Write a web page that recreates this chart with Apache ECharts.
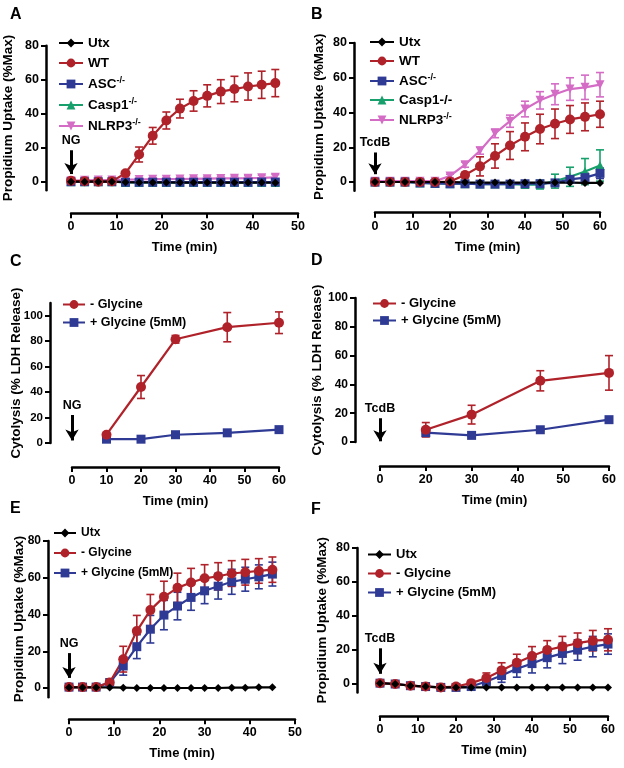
<!DOCTYPE html>
<html><head><meta charset="utf-8">
<script src="https://cdn.jsdelivr.net/npm/echarts@6/dist/echarts.min.js"></script>
<style>html,body{margin:0;padding:0;background:#fff}#c{width:624px;height:768px}</style>
</head><body><div id="c"></div>
<script>
// ---------- DATA ----------
// Panel A (NG, propidium uptake)
const tA = [0,3,6,9,12,15,18,21,24,27,30,33,36,39,42,45];
const A_utx = [0,0,0,0,-0.3,-0.4,-0.4,-0.4,-0.5,-0.5,-0.5,-0.5,-0.5,-0.5,-0.5,-0.6];
const A_wt = [0.5,0.3,0,0.2,5,16,27,36,43,47.5,50.5,53,54.5,56,57,58];
const A_wtErr = [0.5,0.5,0.5,0.5,1,4.4,4.9,5,5.5,6,6.5,7,7.5,8,8,8];
const A_asc = [0,0,0,0,-0.3,-0.3,-0.3,-0.3,-0.3,-0.3,-0.3,-0.3,-0.3,-0.3,-0.2,-0.2];
const A_casp1 = [0,0,0,0,-0.4,-0.4,-0.5,-0.5,-0.5,-0.5,-0.5,-0.5,-0.5,-0.5,-0.4,-0.4];
const A_nlrp3 = [0.5,0.8,1,1,1.2,1.3,1.5,1.5,1.6,1.7,1.8,1.9,2,2.1,2.3,2.6];
const A_nlrp3Err = [0.3,0.4,0.5,0.6,0.7,0.8,0.9,1,1,1.1,1.2,1.2,1.3,1.4,1.5,1.6];
// Panel B (TcdB, propidium uptake)
const tB = [0,4,8,12,16,20,24,28,32,36,40,44,48,52,56,60];
const B_utx = [0,0,0,0,0,0,-0.2,-0.3,-0.3,-0.3,-0.3,-0.3,-0.3,-0.4,-0.5,-0.5];
const B_wt = [0,0,0,0,0,0.3,4,9,15,21,26,30.5,33.5,36,37.5,39];
const B_wtErr = [0.3,0.3,0.3,0.3,0.3,0.5,1.5,5.5,7,8,8,8.5,8.5,8,8,7.5];
const B_asc = [0,0,0,-0.5,-0.8,-1,-1,-1.2,-1.2,-1.2,-1,-1,-0.5,1.5,2.5,5];
const B_ascErr = [0.2,0.2,0.2,0.3,0.3,0.5,0.5,0.5,0.5,0.5,0.8,1,1,2,2.5,3];
const B_casp1 = [0,0,0,-0.5,-0.8,-1,-1,-1.2,-1.2,-1.3,-1.5,-1.5,0.5,3,6,9.5];
const B_casp1Err = [0.2,0.2,0.2,0.3,0.3,0.5,0.5,0.5,0.5,1,2,2.5,4,5.5,7.5,9];
const B_nlrp3 = [0.5,0.5,0.5,0.5,0.5,3.5,10,18,28,35,42,47,50.5,53.5,54.5,56];
const B_nlrp3Err = [0.5,0.5,0.5,0.5,0.5,1,1.5,2,2.5,3.5,4.5,5,6,6.5,7,7];
// Panel C (NG, LDH release)
const tC = [10,20,30,45,60];
const C_minus = [6.5,44,81.5,91,94.5];
const C_minusErr = [1,9,3,11.5,8.5];
const C_plus = [3,3,6.5,8,10.5];
const C_plusErr = [0.8,0.8,0.8,0.8,0.8];
// Panel D (TcdB, LDH release)
const tD = [20,30,45,60];
const D_minus = [8.5,19,42.5,48];
const D_minusErr = [5,6.5,7,12];
const D_plus = [6.5,4.6,8.5,15.5];
const D_plusErr = [0.8,0.8,0.8,0.8];
// Panel E (NG, glycine)
const tE = [0,3,6,9,12,15,18,21,24,27,30,33,36,39,42,45];
const E_utx = [0.3,0.3,0.3,0.3,0.2,0,0,0,0,0,0,0,0.2,0.2,0.4,0.4];
const E_minus = [0.5,0.5,0.5,3,15.7,31,42.4,49.6,54.5,57.4,59.7,60.8,62.3,63,63.7,64.4];
const E_minusErr = [0.5,0.5,0.5,1,7,8.5,8.5,8.5,8,7.7,7.4,7.4,7,7,6.7,6.9];
const E_plus = [0.5,0.5,0.5,3,12,22.5,32,39.7,44.6,49.3,52.9,55.4,57.8,59.2,60.5,62];
const E_plusErr = [0.5,0.5,0.5,1,5,6.5,7.5,8,7.5,7,7,7,6.8,6.5,6.5,6.5];
// Panel F (TcdB, glycine)
const tF = [0,4,8,12,16,20,24,28,32,36,40,44,48,52,56,60];
const F_utx = [0.5,0,-1,-1.5,-2,-2,-2,-2,-2,-2,-2,-2,-2,-2,-2,-2];
const F_minus = [0.5,0,-1,-1.5,-2,-1.5,0.5,3.5,8,12.5,16.5,20,22,24,25.5,26];
const F_minusErr = [0.5,0.5,0.5,0.5,0.5,0.5,1,3,4.5,5,5.5,5.5,6,6,6,6.5];
const F_plus = [0.5,0,-1,-1.5,-2,-2,-1.5,1.5,5,9,12,15.5,18,20,22,23.5];
const F_plusErr = [0.5,0.5,0.5,0.5,0.5,0.5,1,3,4,5,5.5,6,6,6,6,6];
// Tick labels
const yTicksPU = [0,20,40,60,80];
const yTicksLDH = [0,20,40,60,80,100];

// ---------- STYLE ----------
const RED='#b0222a', BLUE='#2e3a94', GREEN='#17a06c', PINK='#d46cc6', BLACK='#000000';
const FONT = 'Arial, "Liberation Sans", Helvetica, sans-serif';
const ITRI = 'path://M0,0L10,0L5,9Z';
const st = {
  utx:{color:BLACK, symbol:'diamond', size:8},
  wt:{color:RED, symbol:'circle', size:10},
  asc:{color:BLUE, symbol:'rect', size:9},
  casp:{color:GREEN, symbol:'triangle', size:9},
  nlrp:{color:PINK, symbol:ITRI, size:9},
  minus:{color:RED, symbol:'circle', size:10},
  plus:{color:BLUE, symbol:'rect', size:9}
};

const panels = [
 {letter:['A',10,7], grid:{left:70,top:45.7,width:228,height:144.5},
  x:{min:0,max:50,interval:10,offset:23,nameGap:28,fs:12.5}, y:{min:-5,max:80,ticks:yTicksPU,offset:25,name:'Propidium Uptake (%Max)',nameGap:31,fs:12.5},
  legend:{left:58,top:36,gap:6,w:24,fs:13.5,sup:['ASC-/-','Casp1-/-','NLRP3-/-']},
  arrow:{x:0,from:18.5,to:4.5,text:'NG'},
  series:[['Utx',tA,A_utx,null,st.utx],['WT',tA,A_wt,A_wtErr,st.wt],['ASC-/-',tA,A_asc,null,st.asc],['Casp1-/-',tA,A_casp1,null,st.casp],['NLRP3-/-',tA,A_nlrp3,A_nlrp3Err,st.nlrp]]},
 {letter:['B',311,7], grid:{left:375,top:43,width:225,height:147.7},
  x:{min:0,max:60,interval:10,offset:22,nameGap:28,fs:12.5}, y:{min:-5,max:80,ticks:yTicksPU,offset:21,name:'Propidium Uptake (%Max)',nameGap:28,fs:12.5},
  legend:{left:369,top:35,gap:5,w:24,fs:13.5,sup:['ASC-/-','NLRP3-/-']},
  arrow:{x:0,from:17,to:4.5,text:'TcdB'},
  series:[['Utx',tB,B_utx,null,st.utx],['WT',tB,B_wt,B_wtErr,st.wt],['ASC-/-',tB,B_asc,B_ascErr,st.asc],['Casp1-/-',tB,B_casp1,B_casp1Err,st.casp],['NLRP3-/-',tB,B_nlrp3,B_nlrp3Err,st.nlrp]]},
 {letter:['C',10,254], grid:{left:72,top:303,width:207,height:140},
  x:{min:0,max:60,interval:10,offset:24,nameGap:28,fs:12.5}, y:{min:0,max:110,ticks:yTicksLDH,offset:22,name:'Cytolysis (% LDH Release)',nameGap:27,fs:11.5},
  legend:{left:62,top:298,gap:5,w:22,fs:12.5,sup:[]},
  arrow:{x:0,from:22,to:2,text:'NG'},
  series:[['- Glycine',tC,C_minus,C_minusErr,st.minus],['+ Glycine (5mM)',tC,C_plus,C_plusErr,st.plus]]},
 {letter:['D',311,253], grid:{left:380,top:298,width:229,height:144},
  x:{min:10,max:60,interval:10,offset:24,nameGap:28,fs:12.5,fmt:v=>v===10?'0':String(v)}, y:{min:0,max:100,ticks:yTicksLDH,offset:25,name:'Cytolysis (% LDH Release)',nameGap:31,fs:12},
  legend:{left:372,top:297,gap:4,w:23,fs:13,sup:[]},
  arrow:{x:10,from:16.5,to:0.5,text:'TcdB'},
  series:[['- Glycine',tD,D_minus,D_minusErr,st.minus],['+ Glycine (5mM)',tD,D_plus,D_plusErr,st.plus]]},
 {letter:['E',10,501], grid:{left:69,top:541,width:226,height:156.2},
  x:{min:0,max:50,interval:10,offset:22,nameGap:28,fs:12.5}, y:{min:-5,max:80,ticks:yTicksPU,offset:21,name:'Propidium Uptake (%Max)',nameGap:22,fs:12},
  legend:{left:53,top:527,gap:8,w:22,fs:12,sup:[]},
  arrow:{x:0,from:19,to:5.5,text:'NG'},
  series:[['Utx',tE,E_utx,null,st.utx],['- Glycine',tE,E_minus,E_minusErr,st.minus],['+ Glycine (5mM)',tE,E_plus,E_plusErr,st.plus]]},
 {letter:['F',311,502], grid:{left:380,top:548,width:228,height:144.5},
  x:{min:0,max:60,interval:10,offset:23.5,nameGap:28,fs:12.5}, y:{min:-5,max:80,ticks:yTicksPU,offset:23,name:'Propidium Uptake (%Max)',nameGap:28,fs:12.5},
  legend:{left:367,top:548,gap:6,w:23,fs:13,sup:[]},
  arrow:{x:0,from:21,to:6,text:'TcdB'},
  series:[['Utx',tF,F_utx,null,st.utx],['- Glycine',tF,F_minus,F_minusErr,st.minus],['+ Glycine (5mM)',tF,F_plus,F_plusErr,st.plus]]}
];

function errRender(params, api){
  const x=api.value(0), y=api.value(1), e=api.value(2);
  if(!e) return null;
  const hi=api.coord([x,y+e]), lo=api.coord([x,y-e]);
  const w=4, c=api.visual('color');
  const ls={stroke:c,lineWidth:1.6};
  return {type:'group', children:[
    {type:'line', shape:{x1:hi[0],y1:hi[1],x2:lo[0],y2:lo[1]}, style:ls},
    {type:'line', shape:{x1:hi[0]-w,y1:hi[1],x2:hi[0]+w,y2:hi[1]}, style:ls},
    {type:'line', shape:{x1:lo[0]-w,y1:lo[1],x2:lo[0]+w,y2:lo[1]}, style:ls}
  ]};
}

const option = {animation:false, backgroundColor:'#fff', title:[], grid:[], xAxis:[], yAxis:[], legend:[], series:[]};
const axisText = fs => ({color:'#000', fontWeight:'bold', fontFamily:FONT, fontSize:fs});
panels.forEach((p,i)=>{
  option.title.push({text:p.letter[0], left:p.letter[1], top:p.letter[2], padding:0,
    textStyle:{fontSize:16, fontWeight:'bold', color:'#000', fontFamily:FONT}});
  option.grid.push(p.grid);
  option.xAxis.push({type:'value', gridIndex:i, min:p.x.min, max:p.x.max, interval:p.x.interval, offset:p.x.offset,
    name:'Time (min)', nameLocation:'middle', nameGap:p.x.nameGap, nameMoveOverlap:false,
    nameTextStyle:{color:'#000', fontWeight:'bold', fontFamily:FONT, fontSize:13},
    axisLine:{show:true, onZero:false, lineStyle:{color:'#000', width:2.5}},
    axisTick:{show:true, length:5, lineStyle:{color:'#000', width:2}},
    axisLabel:Object.assign({margin:7, formatter:p.x.fmt || (v=>String(v))}, axisText(p.x.fs)),
    splitLine:{show:false}});
  option.yAxis.push({type:'value', gridIndex:i, min:p.y.min, max:p.y.max, offset:p.y.offset,
    name:p.y.name, nameLocation:'middle', nameGap:p.y.nameGap, nameMoveOverlap:false,
    nameTextStyle:{color:'#000', fontWeight:'bold', fontFamily:FONT, fontSize:13.5},
    axisLine:{show:true, onZero:false, lineStyle:{color:'#000', width:2.5}},
    axisTick:{show:true, length:5, customValues:p.y.ticks, lineStyle:{color:'#000', width:2}},
    axisLabel:Object.assign({margin:7, customValues:p.y.ticks}, axisText(p.y.fs)),
    splitLine:{show:false}});
  const sup = p.legend.sup, lfs = p.legend.fs;
  option.legend.push({orient:'vertical', left:p.legend.left, top:p.legend.top, itemGap:p.legend.gap,
    itemWidth:p.legend.w, itemHeight:11, selectedMode:false, padding:0,
    data:p.series.map(s=>s[0]),
    formatter: name => sup.indexOf(name)>=0 ? '{n|'+name.replace('-/-','')+'}{s|-/-}' : '{n|'+name+'}',
    textStyle:{color:'#000', fontWeight:'bold', fontFamily:FONT, fontSize:lfs,
      rich:{n:{color:'#000', fontWeight:'bold', fontFamily:FONT, fontSize:lfs, lineHeight:16},
            s:{color:'#000', fontWeight:'bold', fontFamily:FONT, fontSize:9, lineHeight:10, verticalAlign:'top'}}}});
  const n = p.series.length;
  p.series.slice().reverse().forEach((s, ri)=>{
    const [name,t,v,err,sty] = s;
    const isFirst = (ri === n-1);
    if(err){
      option.series.push({type:'custom', name:name+' (SEM)', xAxisIndex:i, yAxisIndex:i, renderItem:errRender,
        itemStyle:{color:sty.color}, silent:true, z:2,
        data:t.map((x,k)=>[x,v[k],err[k]])});
    }
    const ser = {type:'line', name:name, xAxisIndex:i, yAxisIndex:i, clip:false, z:3,
      symbol:sty.symbol, symbolSize:sty.size, showAllSymbol:true,
      itemStyle:{color:sty.color}, lineStyle:{color:sty.color, width:2.2},
      emphasis:{disabled:true},
      data:t.map((x,k)=>[x,v[k]])};
    if(isFirst){
      ser.markLine = {silent:true, symbol:['none','arrow'], symbolSize:[10,11],
        lineStyle:{color:'#000', width:3, type:'solid'},
        label:{show:true, position:'start', formatter:p.arrow.text, color:'#000', fontWeight:'bold', fontFamily:FONT, fontSize:12.5, distance:3},
        emphasis:{disabled:true},
        data:[[{coord:[p.arrow.x,p.arrow.from]},{coord:[p.arrow.x,p.arrow.to]}]]};
    }
    option.series.push(ser);
  });
});

const chart = echarts.init(document.getElementById('c'), null, {renderer:'canvas'});
chart.setOption(option);
</script></body></html>
